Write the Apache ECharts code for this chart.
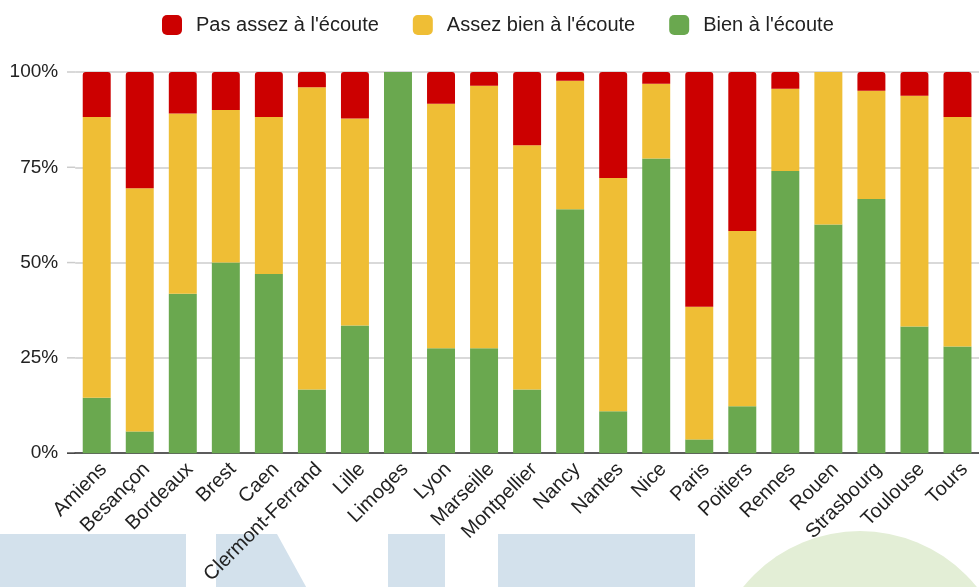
<!DOCTYPE html>
<html>
<head>
<meta charset="utf-8">
<script src="https://cdn.jsdelivr.net/npm/echarts@6/dist/echarts.min.js"></script>
<style>
html,body{margin:0;padding:0;background:#fff;}
#chart{width:979px;height:587px;}
</style>
</head>
<body>
<div id="chart"></div>
<script>
var categories = ["Amiens","Besançon","Bordeaux","Brest","Caen","Clermont-Ferrand","Lille","Limoges","Lyon","Marseille","Montpellier","Nancy","Nantes","Nice","Paris","Poitiers","Rennes","Rouen","Strasbourg","Toulouse","Tours"];
var seriesNames = ["Pas assez à l'écoute","Assez bien à l'écoute","Bien à l'écoute"];
var bien      = [14.5, 5.7, 41.8, 50.0, 47.0, 16.7, 33.5, 100, 27.5, 27.5, 16.7, 64.0, 11.0, 77.3, 3.6, 12.3, 74.0, 60.0, 66.7, 33.2, 28.0];
var assezBien = [73.7, 63.8, 47.3, 40.0, 41.2, 79.3, 54.3, 0, 64.2, 68.9, 64.1, 33.7, 61.2, 19.6, 34.8, 46.0, 21.6, 40.0, 28.4, 60.6, 60.2];
var pasAssez  = [11.8, 30.5, 10.9, 10.0, 11.8, 4.0, 12.2, 0, 8.3, 3.6, 19.2, 2.3, 27.8, 3.1, 61.6, 41.7, 4.4, 0, 4.9, 6.2, 11.8];
var yTicks = [0, 25, 50, 75, 100];

var FONT = "'Liberation Sans', Arial, sans-serif";
var watermark = [
  {type:'rect', z:-100, silent:true, shape:{x:0,y:534,width:186,height:60}, style:{fill:'#d3e1ec'}},
  {type:'polygon', z:-100, silent:true, shape:{points:[[216,534],[277,534],[310,594],[216,594]]}, style:{fill:'#d3e1ec'}},
  {type:'rect', z:-100, silent:true, shape:{x:388,y:534,width:57,height:60}, style:{fill:'#d3e1ec'}},
  {type:'rect', z:-100, silent:true, shape:{x:498,y:534,width:197,height:60}, style:{fill:'#d3e1ec'}},
  {type:'circle', z:-100, silent:true, shape:{cx:860,cy:681,r:150}, style:{fill:'#e3eed6'}}
];
var GRID_LEFT = 75.2;
var chart = echarts.init(document.getElementById('chart'));
chart.setOption({
  animation: false,
  textStyle: {fontFamily: FONT},
  graphic: watermark,
  legend: {
    data: seriesNames,
    left: 157, top: 10,
    itemWidth: 20, itemHeight: 20, itemGap: 34,
    icon: 'roundRect',
    textStyle: {fontSize: 20, color: '#222', fontFamily: FONT, padding: [0,0,0,9]}
  },
  grid: {left: GRID_LEFT, top: 72, width: 910, height: 384, containLabel: false},
  xAxis: {
    type: 'category',
    data: categories,
    axisTick: {show: false},
    axisLine: {lineStyle: {color: '#333', width: 1.5}},
    axisLabel: {rotate: 45, fontSize: 20, color: '#222', margin: 6, interval: 0, verticalAlign: 'top', fontFamily: FONT}
  },
  yAxis: {
    type: 'value', min: 0, max: 100, interval: 25,
    axisLabel: {formatter: function(v){ return yTicks.indexOf(v) >= 0 ? v + '%' : ''; }, fontSize: 19, color: '#222', margin: 17, fontFamily: FONT},
    splitLine: {lineStyle: {color: '#cccccc', width: 1.5}},
    axisLine: {show: false}, axisTick: {show: false}
  },
  series: [
    {name: seriesNames[2], type: 'bar', stack: 's', data: bien, barWidth: '65%', itemStyle: {color: '#6aa84f'}},
    {name: seriesNames[1], type: 'bar', stack: 's', data: assezBien, barWidth: '65%', itemStyle: {color: '#efbe35'}},
    {name: seriesNames[0], type: 'bar', stack: 's', data: pasAssez, barWidth: '65%', itemStyle: {color: '#cc0000', borderRadius: [3,3,0,0]}}
  ]
});
// extend gridlines slightly left of the plot, as in the reference
var ext = yTicks.map(function(v){
  var y = chart.convertToPixel({yAxisIndex: 0}, v);
  return {type:'line', silent:true, z:1, shape:{x1:67, y1:y, x2:GRID_LEFT, y2:y},
    style:{stroke: v === 0 ? '#333' : '#cccccc', lineWidth: 1.5}};
});
chart.setOption({graphic: watermark.concat(ext)});
</script>
</body>
</html>
